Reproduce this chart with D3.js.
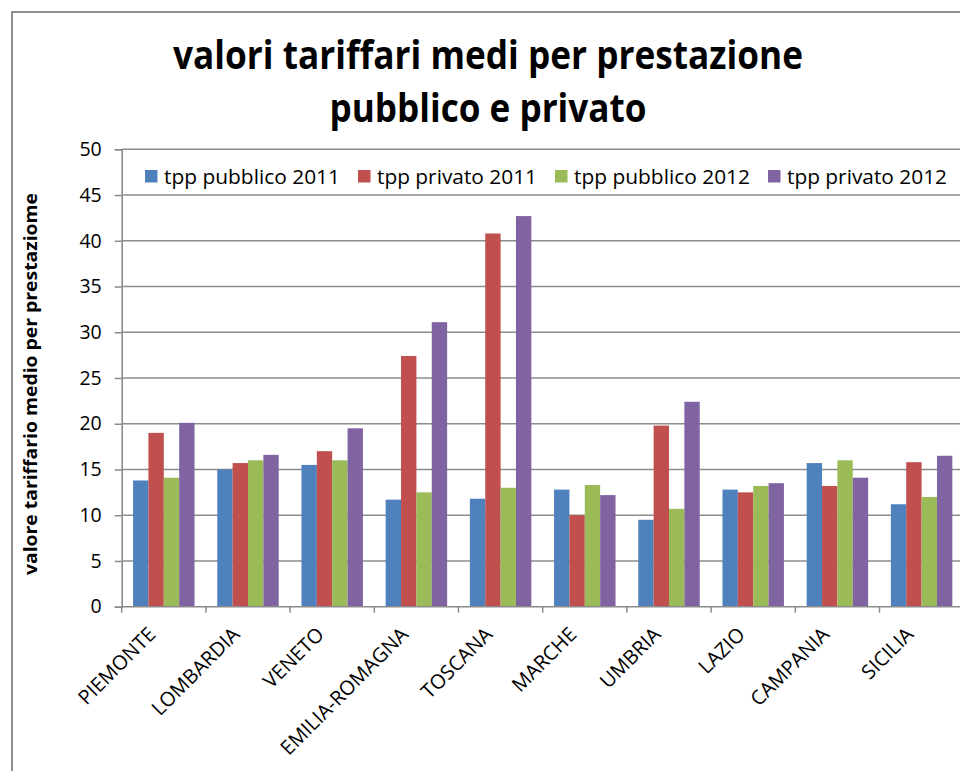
<!DOCTYPE html>
<html>
<head>
<meta charset="utf-8">
<script src="https://cdn.jsdelivr.net/npm/d3@7"></script>
<style>
  html, body { margin: 0; padding: 0; background: #fff; overflow: hidden; }
  svg { display: block; }
</style>
</head>
<body>
<script>
// ---- data ----
const categories = ["PIEMONTE","LOMBARDIA","VENETO","EMILIA-ROMAGNA","TOSCANA","MARCHE","UMBRIA","LAZIO","CAMPANIA","SICILIA"];
const seriesNames = ["tpp pubblico 2011","tpp privato 2011","tpp pubblico 2012","tpp privato 2012"];
const pubblico2011 = [13.8, 15.0, 15.5, 11.7, 11.8, 12.8, 9.5, 12.8, 15.7, 11.2];
const privato2011  = [19.0, 15.7, 17.0, 27.4, 40.8, 10.0, 19.8, 12.5, 13.2, 15.8];
const pubblico2012 = [14.1, 16.0, 16.0, 12.5, 13.0, 13.3, 10.7, 13.2, 16.0, 12.0];
const privato2012  = [20.1, 16.6, 19.5, 31.1, 42.7, 12.2, 22.4, 13.5, 14.1, 16.5];
const yTicks = [0, 5, 10, 15, 20, 25, 30, 35, 40, 45, 50];
const titleLines = ["valori tariffari medi per prestazione", "pubblico e privato"];
const yTitle = "valore tariffario medio per prestaziome";

const seriesValues = [pubblico2011, privato2011, pubblico2012, privato2012];
const colors = ["#4F81BD", "#C0504D", "#9BBB59", "#8064A2"];

// ---- layout ----
const W = 960, H = 771;
const plot = { left: 121.7, right: 963.7, top: 149.3, bottom: 606.7 };
const gridColor = "#8c8c8c";
const font = "'Open Sans', 'Noto Sans', sans-serif";

const svg = d3.select("body").append("svg").attr("width", W).attr("height", H);

// outer chart border
svg.append("rect")
  .attr("x", 12).attr("y", 12).attr("width", W + 20).attr("height", H + 20)
  .attr("fill", "#fff").attr("stroke", "#8f8f8f").attr("stroke-width", 2);

// scales
const x = d3.scaleBand().domain(categories).range([plot.left, plot.right])
  .paddingInner(0.27).paddingOuter(0.135);
const xs = d3.scaleBand().domain(d3.range(seriesNames.length)).range([0, x.bandwidth()]).padding(0);
const y = d3.scaleLinear().domain([0, 50]).range([plot.bottom, plot.top]);

// gridlines
svg.append("g").selectAll("line").data(yTicks.filter(d => d > 0)).join("line")
  .attr("x1", plot.left).attr("x2", plot.right)
  .attr("y1", d => y(d)).attr("y2", d => y(d))
  .attr("stroke", gridColor).attr("stroke-width", 1.5);

// bars
const groups = svg.append("g").selectAll("g").data(categories).join("g")
  .attr("transform", d => `translate(${x(d)},0)`);
groups.selectAll("rect")
  .data((c, i) => seriesValues.map((vals, s) => ({ s, v: vals[i] })))
  .join("rect")
  .attr("x", d => xs(d.s))
  .attr("width", xs.bandwidth())
  .attr("y", d => y(d.v))
  .attr("height", d => y(0) - y(d.v))
  .attr("fill", d => colors[d.s]);

// y axis
const yAxis = svg.append("g").attr("transform", `translate(${plot.left},0)`)
  .call(d3.axisLeft(y).tickValues(yTicks).tickSize(7).tickPadding(13).tickFormat(d3.format("d")));
yAxis.select(".domain").attr("stroke", gridColor).attr("stroke-width", 1.6);
yAxis.selectAll(".tick line").attr("stroke", gridColor).attr("stroke-width", 1.5);
yAxis.selectAll(".tick text").attr("font-family", font).attr("font-size", 19.5).attr("fill", "#000");

// x axis: line + boundary ticks
svg.append("line").attr("x1", plot.left).attr("x2", plot.right)
  .attr("y1", plot.bottom).attr("y2", plot.bottom)
  .attr("stroke", gridColor).attr("stroke-width", 1.6);
const step = x.step();
svg.append("g").selectAll("line").data(d3.range(categories.length + 1)).join("line")
  .attr("x1", i => plot.left + i * step).attr("x2", i => plot.left + i * step)
  .attr("y1", plot.bottom).attr("y2", plot.bottom + 6)
  .attr("stroke", gridColor).attr("stroke-width", 1.5);

// x labels
svg.append("g").selectAll("text").data(categories).join("text")
  .attr("transform", d => `translate(${x(d) + x.bandwidth() / 2 - 7},${plot.bottom + 29}) rotate(-45)`)
  .attr("text-anchor", "end")
  .attr("font-family", font).attr("font-size", 20).attr("fill", "#000")
  .text(d => d);

// title
svg.append("g").selectAll("text").data(titleLines).join("text")
  .attr("x", 488).attr("y", (d, i) => 69 + i * 53)
  .attr("text-anchor", "middle")
  .attr("font-family", font).attr("font-weight", "bold").attr("font-size", 40)
  .attr("textLength", (d, i) => i === 0 ? 630 : 317)
  .attr("lengthAdjust", "spacingAndGlyphs")
  .attr("fill", "#000")
  .text(d => d);

// y title
svg.append("text")
  .attr("transform", "translate(37,384) rotate(-90)")
  .attr("text-anchor", "middle")
  .attr("font-family", font).attr("font-weight", "bold").attr("font-size", 17)
  .attr("textLength", 382).attr("lengthAdjust", "spacingAndGlyphs")
  .attr("fill", "#000")
  .text(yTitle);

// legend
const legend = svg.append("g");
let lx = 145;
const legendTextWidths = [176, 160, 176, 160];
seriesNames.forEach((name, i) => {
  legend.append("rect").attr("x", lx).attr("y", 170).attr("width", 12.5).attr("height", 12.5).attr("fill", colors[i]);
  legend.append("text").attr("x", lx + 19).attr("y", 184)
    .attr("font-family", font).attr("font-size", 20.5).attr("fill", "#000")
    .attr("textLength", legendTextWidths[i]).attr("lengthAdjust", "spacingAndGlyphs")
    .text(name);
  lx += 19 + legendTextWidths[i] + 18;
});
</script>
</body>
</html>
